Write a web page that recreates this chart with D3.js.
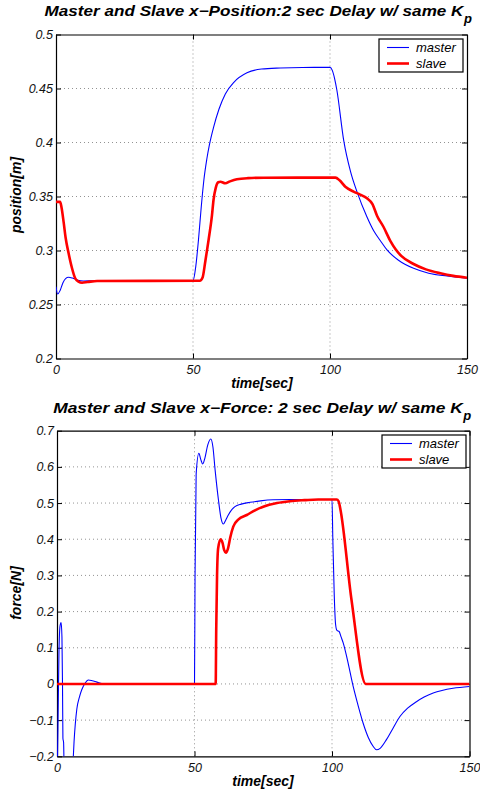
<!DOCTYPE html>
<html>
<head>
<meta charset="utf-8">
<script src="https://cdn.jsdelivr.net/npm/d3@7"></script>
<style>
  body { margin: 0; background: #fff; }
  svg { display: block; }
</style>
</head>
<body>
<svg id="fig" width="480" height="793"></svg>
<script>
// ---- data ----
var xTicks = [0, 50, 100, 150];
var posTicks = [0.2, 0.25, 0.3, 0.35, 0.4, 0.45, 0.5];
var forceTicks = [-0.2, -0.1, 0, 0.1, 0.2, 0.3, 0.4, 0.5, 0.6, 0.7];

var masterPosT = [0, 0.6, 1.5, 2.5, 3.5, 4.6, 6, 8, 10, 14, 50, 51, 52, 53, 54, 55, 56, 57.5, 59.5, 61.8, 65, 69.7, 75, 81.9, 90, 100, 100.8, 101.7, 102.5, 105, 107.5, 109.9, 113.5, 116, 118.4, 120.8, 125, 130.5, 136, 142.7, 150];
var masterPos = [0.2665, 0.2597, 0.263, 0.270, 0.274, 0.2752, 0.2745, 0.2725, 0.2718, 0.272, 0.272, 0.285, 0.31, 0.34, 0.366, 0.384, 0.398, 0.414, 0.431, 0.445, 0.456, 0.4645, 0.468, 0.469, 0.4695, 0.4696, 0.467, 0.459, 0.4486, 0.402, 0.373, 0.354, 0.331, 0.318, 0.309, 0.3005, 0.291, 0.2835, 0.279, 0.2764, 0.2743];

var slavePosT = [0, 1.5, 2.0, 2.8, 3.5, 4.6, 5.8, 7, 8.2, 9.5, 11.5, 15, 52.5, 53.5, 54.5, 55.7, 56.9, 57.5, 58.3, 59.2, 60, 61.8, 63.5, 66, 70, 75.8, 102, 103.5, 105.6, 108.6, 111, 113.5, 115.5, 117.2, 119.5, 122, 124, 126, 130.5, 135, 140.3, 145, 150];
var slavePos = [0.345, 0.345, 0.340, 0.326, 0.312, 0.2974, 0.284, 0.2743, 0.2712, 0.2702, 0.2708, 0.2718, 0.272, 0.275, 0.29, 0.31, 0.332, 0.347, 0.358, 0.3632, 0.3637, 0.3622, 0.364, 0.366, 0.367, 0.3674, 0.3675, 0.365, 0.359, 0.3545, 0.3518, 0.3483, 0.343, 0.332, 0.322, 0.309, 0.301, 0.295, 0.2875, 0.2825, 0.2789, 0.2765, 0.2748];

var masterForceT = [0, 0.35, 0.7, 1.1, 1.5, 1.8, 2.0, 2.15, 2.4, 2.6, 3.2, 4.5, 5.5, 6.2, 7.2, 8.2, 9, 10.2, 11.4, 12.8, 14.5, 16.9, 50, 50.2, 50.6, 51.6, 52.3, 53, 53.8, 54.8, 55.9, 56.7, 57.5, 58.7, 59.6, 60.5, 61.3, 62.3, 63.5, 64.7, 67, 70.2, 74, 78.6, 85, 100, 100.3, 100.8, 101.3, 101.8, 102.6, 103.3, 104.1, 105.5, 107.7, 109.5, 111.3, 113.2, 115, 116.2, 117.5, 119.8, 122, 124.7, 127.5, 130.7, 133.5, 136.8, 140, 144, 150];
var masterForce = [-0.30, -0.12, 0.08, 0.16, 0.17, 0.13, 0.0, -0.15, -0.162, -0.25, -0.40, -0.40, -0.27, -0.16, -0.07, -0.035, -0.016, 0.002, 0.011, 0.009, 0.005, 0.0, 0.0, 0.3, 0.58, 0.6375, 0.62, 0.608, 0.625, 0.66, 0.677, 0.655, 0.591, 0.509, 0.46, 0.442, 0.452, 0.467, 0.481, 0.49, 0.497, 0.502, 0.506, 0.509, 0.51, 0.51, 0.40, 0.25, 0.165, 0.148, 0.145, 0.13, 0.113, 0.07, -0.007, -0.06, -0.108, -0.148, -0.173, -0.182, -0.178, -0.154, -0.125, -0.09, -0.067, -0.049, -0.036, -0.025, -0.018, -0.012, -0.007];

var slaveForceT = [0, 57.7, 57.9, 58.2, 58.6, 59.5, 60.2, 60.8, 61.4, 62.2, 63, 64.1, 66, 69, 72, 75, 80, 84.7, 90, 95, 101.7, 102.4, 103, 107.1, 112.3, 150];
var slaveForce = [0, 0, 0.15, 0.30, 0.375, 0.40, 0.39, 0.37, 0.363, 0.375, 0.405, 0.435, 0.455, 0.467, 0.48, 0.49, 0.5, 0.505, 0.508, 0.51, 0.51, 0.505, 0.485, 0.232, 0.0, 0];

var legendNames = ["master", "slave"];

var blue = "#0000ff", red = "#ff0000";
var font = "'Liberation Sans', Arial, Helvetica, sans-serif";

var svg = d3.select("#fig");

function zip(ts, vs) {
  return ts.map(function(t, i) { return [t, vs[i]]; });
}

// stretched bold-italic title with a subscript p after K
function title(main, cx, baseline, stretch) {
  var t = svg.append("text")
    .attr("y", baseline)
    .attr("font-family", font)
    .attr("font-weight", "bold")
    .attr("font-style", "italic")
    .attr("font-size", 14.5)
    .text(main);
  var w = t.node().getComputedTextLength() * stretch;
  t.attr("textLength", w).attr("lengthAdjust", "spacingAndGlyphs");
  var sub = svg.append("text")
    .attr("y", baseline + 7)
    .attr("font-family", font)
    .attr("font-weight", "bold")
    .attr("font-style", "italic")
    .attr("font-size", 13)
    .text("p");
  var sw = sub.node().getComputedTextLength();
  var x0 = cx - (w + sw) / 2;
  t.attr("x", x0);
  sub.attr("x", x0 + w + 0.5);
}

function panel(cfg) {
  var x = d3.scaleLinear().domain([0, 150]).range(cfg.xr);
  var y = d3.scaleLinear().domain(cfg.yd).range(cfg.yr);
  var g = svg.append("g");

  // dotted grid
  g.append("g").selectAll("line").data(xTicks.slice(1, -1)).join("line")
    .attr("x1", function(d) { return x(d); }).attr("x2", function(d) { return x(d); })
    .attr("y1", cfg.yr[0]).attr("y2", cfg.yr[1])
    .attr("stroke", "#777").attr("stroke-width", 0.8).attr("stroke-dasharray", "1,3");
  g.append("g").selectAll("line").data(cfg.yTicks.slice(1, -1)).join("line")
    .attr("y1", function(d) { return y(d); }).attr("y2", function(d) { return y(d); })
    .attr("x1", cfg.xr[0]).attr("x2", cfg.xr[1])
    .attr("stroke", "#777").attr("stroke-width", 0.8).attr("stroke-dasharray", "1,3");

  // axes, ticks pointing inward on all sides
  var fmt = function(d) { return d3.format("")(+d.toFixed(2)); };
  var ax = [
    [d3.axisBottom(x).tickValues(xTicks).tickPadding(7), "translate(0," + cfg.yr[0] + ")", true],
    [d3.axisTop(x).tickValues(xTicks), "translate(0," + cfg.yr[1] + ")", false],
    [d3.axisLeft(y).tickValues(cfg.yTicks).tickPadding(3).tickFormat(fmt), "translate(" + cfg.xr[0] + ",0)", true],
    [d3.axisRight(y).tickValues(cfg.yTicks), "translate(" + cfg.xr[1] + ",0)", false]
  ];
  ax.forEach(function(a) {
    var axis = a[0].tickSizeInner(-5).tickSizeOuter(0);
    if (!a[2]) axis.tickFormat("");
    var ag = g.append("g").attr("transform", a[1]).call(axis);
    ag.select(".domain").attr("stroke", "#000").attr("stroke-width", 1.2);
    ag.selectAll(".tick line").attr("stroke", "#000");
    ag.selectAll("text").attr("font-family", font).attr("font-style", "italic")
      .attr("font-size", 12.5).attr("fill", "#111");
  });

  // curves, clipped to the plot box
  var clipId = "clip" + cfg.id;
  svg.append("clipPath").attr("id", clipId).append("rect")
    .attr("x", cfg.xr[0]).attr("y", cfg.yr[1])
    .attr("width", cfg.xr[1] - cfg.xr[0]).attr("height", cfg.yr[0] - cfg.yr[1]);
  var line = d3.line()
    .x(function(d) { return x(d[0]); })
    .y(function(d) { return y(d[1]); })
    .curve(d3.curveMonotoneX);
  var lines = g.append("g").attr("clip-path", "url(#" + clipId + ")");
  lines.append("path").attr("d", line(cfg.master))
    .attr("fill", "none").attr("stroke", blue).attr("stroke-width", 1.1);
  lines.append("path").attr("d", line(cfg.slave))
    .attr("fill", "none").attr("stroke", red).attr("stroke-width", 2.6)
    .attr("stroke-linejoin", "round");

  // axis labels
  g.append("text")
    .attr("transform", "translate(" + cfg.ylab[0] + "," + cfg.ylab[1] + ") rotate(-90)")
    .attr("text-anchor", "middle")
    .attr("font-family", font).attr("font-weight", "bold").attr("font-style", "italic")
    .attr("font-size", 14).text(cfg.ylabel);
  g.append("text")
    .attr("x", cfg.xlab[0]).attr("y", cfg.xlab[1])
    .attr("text-anchor", "middle")
    .attr("font-family", font).attr("font-weight", "bold").attr("font-style", "italic")
    .attr("font-size", 14).text("time[sec]");

  // legend
  var L = cfg.legend;
  g.append("rect").attr("x", L[0]).attr("y", L[1]).attr("width", L[2]).attr("height", L[3])
    .attr("fill", "#fff").attr("stroke", "#000").attr("stroke-width", 1.2);
  legendNames.forEach(function(name, i) {
    var ly = L[1] + 8.5 + i * 16;
    g.append("line").attr("x1", L[0] + 8).attr("x2", L[0] + 30).attr("y1", ly).attr("y2", ly)
      .attr("stroke", i ? red : blue).attr("stroke-width", i ? 2.6 : 1.1);
    g.append("text").attr("x", L[0] + 37).attr("y", ly + 4.5)
      .attr("font-family", font).attr("font-style", "italic").attr("font-size", 13)
      .text(name);
  });
}

title("Master and Slave x\u2212Position:2 sec Delay w/ same K", 258, 16, 1.18);
title("Master and Slave x\u2212Force: 2 sec Delay w/ same K", 262, 412.5, 1.2);

panel({
  id: 1,
  xr: [56, 467], yd: [0.2, 0.5], yr: [358.5, 34.5], yTicks: posTicks,
  master: zip(masterPosT, masterPos), slave: zip(slavePosT, slavePos),
  ylabel: "position[m]", ylab: [21, 195], xlab: [262, 388],
  legend: [379, 39, 84, 33]
});

panel({
  id: 2,
  xr: [57, 469.5], yd: [-0.2, 0.7], yr: [756.3, 430.7], yTicks: forceTicks,
  master: zip(masterForceT, masterForce), slave: zip(slaveForceT, slaveForce),
  ylabel: "force[N]", ylab: [21, 593], xlab: [263, 786],
  legend: [382, 435, 84, 33]
});
</script>
</body>
</html>
